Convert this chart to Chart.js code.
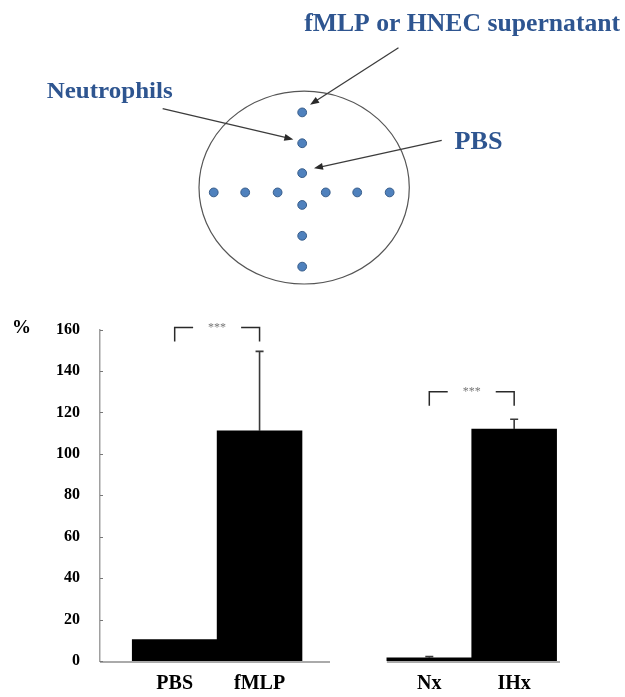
<!DOCTYPE html>
<html>
<head>
<meta charset="utf-8">
<title>Neutrophil migration</title>
<script src="https://cdn.jsdelivr.net/npm/chart.js@4.4.0/dist/chart.umd.min.js"></script>
<style>
  html, body { margin: 0; padding: 0; background: #fff; }
  #wrap { position: relative; width: 625px; height: 697px; overflow: hidden; }
  #diagram { position: absolute; left: 0; top: 0; }
  #bars { position: absolute; left: 0; top: 300px; }
</style>
</head>
<body>
<div id="wrap">
  <canvas id="diagram" width="625" height="300"></canvas>
  <canvas id="bars" width="625" height="397"></canvas>
</div>
<script>
// === Agarose plate layout (wells) ===
const wellX = [302, 302, 302, 302, 302, 302, 212, 244, 277, 326, 358, 391];
const wellY = [111, 143, 174, 207, 239, 271, 194, 194, 194, 194, 194, 194];

// === Migration results ===
const categories = ['PBS', 'fMLP', 'Nx', 'IHx'];
const groupPositions = [1, 2, 4, 5];
const meanValues = [10.4, 111.1, 1.5, 112];
const errorValues = [0, 38.4, 0.6, 4.7];
const yTicks = [0, 20, 40, 60, 80, 100, 120, 140, 160];

// significance brackets: [from index, to index], height, label
const sigPairs = [[0, 1], [2, 3]];
const sigHeights = [161, 130];
const sigLabels = ['***', '***'];

const SERIF = '"Liberation Serif", "Times New Roman", serif';
const BLUE_TEXT = '#2e5590';

// ---------- diagram helpers ----------
function drawArrow(ctx, x1, y1, x2, y2) {
    const ang = Math.atan2(y2 - y1, x2 - x1);
    const len = 9, half = 3.5;
    ctx.strokeStyle = '#3c3c3c';
    ctx.fillStyle = '#2a2a2a';
    ctx.lineWidth = 1.3;
    ctx.beginPath();
    ctx.moveTo(x1, y1);
    ctx.lineTo(x2 - Math.cos(ang) * len * 0.8, y2 - Math.sin(ang) * len * 0.8);
    ctx.stroke();
    ctx.beginPath();
    ctx.moveTo(x2, y2);
    ctx.lineTo(x2 - Math.cos(ang) * len - Math.sin(ang) * half, y2 - Math.sin(ang) * len + Math.cos(ang) * half);
    ctx.lineTo(x2 - Math.cos(ang) * len + Math.sin(ang) * half, y2 - Math.sin(ang) * len - Math.cos(ang) * half);
    ctx.closePath();
    ctx.fill();
}

// text stretched to a given width, left aligned on its baseline
function drawFitText(ctx, text, x, y, width, size) {
    ctx.save();
    ctx.font = `bold ${size}px ${SERIF}`;
    const w = ctx.measureText(text).width;
    ctx.translate(x, y);
    ctx.scale(width / w, 1);
    ctx.fillStyle = BLUE_TEXT;
    ctx.textBaseline = 'alphabetic';
    ctx.textAlign = 'left';
    ctx.fillText(text, 0, 0);
    ctx.restore();
}

const plateLayout = {
    id: 'plateLayout',
    beforeDatasetsDraw(chart) {
        const { ctx, scales: { x, y } } = chart;
        const cx = x.getPixelForValue(304), cy = y.getPixelForValue(189);
        const rx = x.getPixelForValue(304 + 107) - cx;
        const ry = y.getPixelForValue(189 + 100) - cy;
        ctx.save();
        ctx.strokeStyle = '#555';
        ctx.lineWidth = 1.2;
        ctx.beginPath();
        ctx.ellipse(cx, cy, Math.abs(rx), Math.abs(ry), 0, 0, Math.PI * 2);
        ctx.stroke();
        ctx.restore();
    },
    afterDatasetsDraw(chart) {
        const { ctx, scales: { x, y } } = chart;
        const px = v => x.getPixelForValue(v);
        const py = v => y.getPixelForValue(v);
        ctx.save();
        drawArrow(ctx, px(400), py(44), px(310), py(103));
        drawArrow(ctx, px(160), py(107), px(293), py(139));
        drawArrow(ctx, px(444), py(140), px(314), py(169));
        drawFitText(ctx, 'fMLP or HNEC supernatant', px(304), py(27), 316, 25);
        drawFitText(ctx, 'Neutrophils', px(42), py(96), 126, 23);
        drawFitText(ctx, 'PBS', px(457), py(149), 48, 26);
        ctx.restore();
    }
};

new Chart(document.getElementById('diagram'), {
    type: 'scatter',
    data: {
        datasets: [{
            data: wellX.map((v, i) => ({ x: v, y: wellY[i] })),
            backgroundColor: '#4f81bd',
            borderColor: '#385d8a',
            borderWidth: 1,
            pointRadius: 4.4,
            clip: false
        }]
    },
    options: {
        responsive: false,
        animation: false,
        events: [],
        layout: { padding: 0 },
        plugins: { legend: { display: false }, tooltip: { enabled: false } },
        scales: {
            x: { type: 'linear', display: false, min: 0, max: 625 },
            y: { type: 'linear', display: false, min: 0, max: 300, reverse: true }
        }
    },
    plugins: [plateLayout]
});

// ---------- bar chart extras ----------
const axisGap = [2.83, 3.5];

const barExtras = {
    id: 'barExtras',
    afterDatasetsDraw(chart) {
        const { ctx, chartArea, scales: { x, y } } = chart;
        const meta = chart.getDatasetMeta(0);
        ctx.save();

        // x axis line, broken between the two experiments
        ctx.strokeStyle = '#aaaaaa';
        ctx.lineWidth = 2;
        ctx.beginPath();
        ctx.moveTo(chartArea.left, chartArea.bottom + 1);
        ctx.lineTo(x.getPixelForValue(axisGap[0]), chartArea.bottom + 1);
        ctx.moveTo(x.getPixelForValue(axisGap[1]), chartArea.bottom + 1);
        ctx.lineTo(chartArea.right, chartArea.bottom + 1);
        ctx.stroke();

        // small inward ticks on the y axis
        ctx.strokeStyle = '#777';
        ctx.lineWidth = 1;
        yTicks.forEach(t => {
            const py = Math.round(y.getPixelForValue(t)) + 0.5;
            ctx.beginPath();
            ctx.moveTo(chartArea.left, py);
            ctx.lineTo(chartArea.left + 3, py);
            ctx.stroke();
        });

        // upper error bars
        ctx.strokeStyle = '#3a3a3a';
        ctx.lineWidth = 1.6;
        meta.data.forEach((bar, i) => {
            if (!errorValues[i]) return;
            const top = y.getPixelForValue(meanValues[i] + errorValues[i]);
            const base = y.getPixelForValue(meanValues[i]);
            ctx.beginPath();
            ctx.moveTo(bar.x, base);
            ctx.lineTo(bar.x, top);
            ctx.moveTo(bar.x - 4, top);
            ctx.lineTo(bar.x + 4, top);
            ctx.stroke();
        });

        // significance brackets
        sigPairs.forEach(([a, b], k) => {
            const xa = x.getPixelForValue(groupPositions[a]);
            const xb = x.getPixelForValue(groupPositions[b]);
            const yy = y.getPixelForValue(sigHeights[k]);
            const mid = (xa + xb) / 2;
            ctx.strokeStyle = '#2a2a2a';
            ctx.lineWidth = 1.5;
            ctx.beginPath();
            ctx.moveTo(xa, yy + 14);
            ctx.lineTo(xa, yy);
            ctx.lineTo(mid - 24, yy);
            ctx.moveTo(mid + 24, yy);
            ctx.lineTo(xb, yy);
            ctx.lineTo(xb, yy + 14);
            ctx.stroke();
            ctx.fillStyle = '#777';
            ctx.font = `12px ${SERIF}`;
            ctx.textAlign = 'center';
            ctx.textBaseline = 'middle';
            ctx.fillText(sigLabels[k], mid, yy);
        });

        // unit label
        ctx.fillStyle = '#000';
        ctx.font = `bold 19px ${SERIF}`;
        ctx.textAlign = 'left';
        ctx.textBaseline = 'middle';
        ctx.fillText('%', 12, y.getPixelForValue(160) - 2);
        ctx.restore();
    }
};

new Chart(document.getElementById('bars'), {
    type: 'bar',
    data: {
        datasets: [{
            data: categories.map((c, i) => ({ x: groupPositions[i], y: meanValues[i] })),
            backgroundColor: '#000',
            borderWidth: 0,
            barPercentage: 1,
            categoryPercentage: 1
        }]
    },
    options: {
        responsive: false,
        animation: false,
        events: [],
        layout: { padding: { top: 27, right: 65, bottom: 0, left: 0 } },
        plugins: { legend: { display: false }, tooltip: { enabled: false } },
        scales: {
            x: {
                type: 'linear',
                bounds: 'data',
                offset: false,
                min: 0.12,
                max: 5.54,
                grid: { display: false, tickLength: 0 },
                border: { display: false },
                afterBuildTicks: scale => {
                    scale.ticks = groupPositions.map(v => ({ value: v }));
                },
                afterFit: scale => { scale.height = 36; },
                ticks: {
                    autoSkip: false,
                    maxRotation: 0,
                    padding: 11,
                    color: '#000',
                    font: { family: SERIF, size: 20, weight: 'bold' },
                    callback: v => categories[groupPositions.indexOf(v)]
                }
            },
            y: {
                min: 0,
                max: 160,
                grid: { display: false, tickLength: 0 },
                border: { display: true, color: '#a0a0a0', width: 1.5 },
                afterFit: scale => { scale.width = 100; },
                afterBuildTicks: scale => {
                    scale.ticks = yTicks.map(v => ({ value: v }));
                },
                ticks: {
                    padding: 20,
                    color: '#000',
                    font: { family: SERIF, size: 16, weight: 'bold' }
                }
            }
        }
    },
    plugins: [barExtras]
});
</script>
</body>
</html>
